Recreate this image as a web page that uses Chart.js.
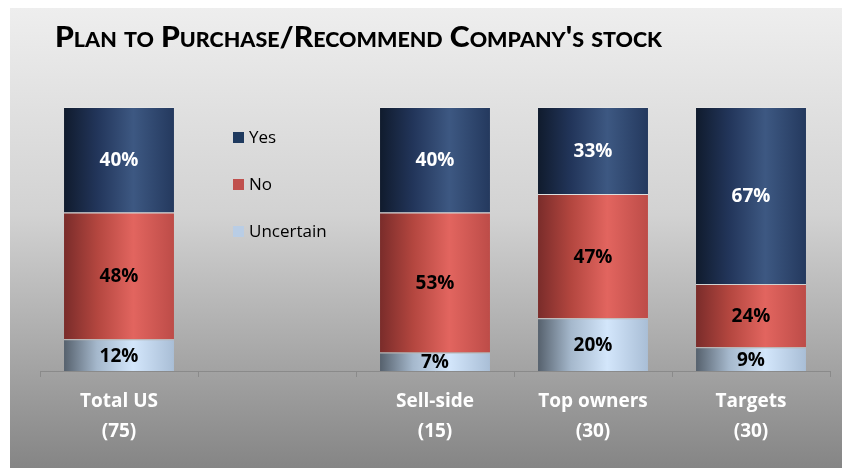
<!DOCTYPE html>
<html>
<head>
<meta charset="utf-8">
<script src="https://cdn.jsdelivr.net/npm/chart.js@4"></script>
<style>
  html, body { margin: 0; padding: 0; background: #ffffff; }
  #wrap { width: 847px; height: 468px; }
</style>
</head>
<body>
<div id="wrap"><canvas id="c" width="847" height="468"></canvas></div>
<script>
// ---- data ----
const titleText = "Plan to Purchase/Recommend Company's stock";
const categories = [["Total US", "(75)"], "", ["Sell-side", "(15)"], ["Top owners", "(30)"], ["Targets", "(30)"]];
const seriesNames = ["Uncertain", "No", "Yes"];
const uncertainValues = [12, null, 7, 20, 9];
const noValues = [48, null, 53, 47, 24];
const yesValues = [40, null, 40, 33, 67];

// ---- styles ----
const BAR_PCT = 0.696;
const gradStops = {
  Yes: [[0, '#101b2d'], [0.3, '#22355a'], [0.63, '#3d5882'], [1, '#24395e']],
  No: [[0, '#7a2c2a'], [0.3, '#b3463f'], [0.63, '#e2655f'], [1, '#bd4c48']],
  Uncertain: [[0, '#56616d'], [0.3, '#a5b8cc'], [0.63, '#d3e6fb'], [1, '#a9bed6']]
};
const legendColors = { Yes: '#1f3a5f', No: '#c0504d', Uncertain: '#b9cde5' };
const labelColors = { Yes: '#ffffff', No: '#000000', Uncertain: '#000000' };

function barFill(name) {
  return (ctx) => {
    const chart = ctx.chart;
    const area = chart.chartArea;
    const xs = chart.scales && chart.scales.x;
    if (!area || !xs) return legendColors[name];
    const cx = xs.getPixelForValue(ctx.dataIndex);
    const w = (area.right - area.left) / categories.length * BAR_PCT;
    const g = chart.ctx.createLinearGradient(cx - w / 2, 0, cx + w / 2, 0);
    gradStops[name].forEach(s => g.addColorStop(s[0], s[1]));
    return g;
  };
}

const valuesByName = { Yes: yesValues, No: noValues, Uncertain: uncertainValues };

const bgPlugin = {
  id: 'bg',
  beforeDraw(chart) {
    const c = chart.ctx;
    c.save();
    c.fillStyle = '#ffffff';
    c.fillRect(0, 0, chart.width, chart.height);
    const g = c.createLinearGradient(0, 8, 0, chart.height);
    g.addColorStop(0, '#eeeeee');
    g.addColorStop(0.45, '#d2d2d2');
    g.addColorStop(1, '#858585');
    c.fillStyle = g;
    c.fillRect(10, 8, 832, chart.height - 8);
    c.restore();
  }
};

const titlePlugin = {
  id: 'customTitle',
  afterDraw(chart) {
    const c = chart.ctx;
    c.save();
    c.font = 'small-caps 900 28px Lato, "Open Sans", sans-serif';
    try { c.fontVariantCaps = 'small-caps'; } catch (e) {}
    c.fillStyle = '#000000';
    c.textBaseline = 'alphabetic';
    c.textAlign = 'left';
    const target = 607;
    const w = c.measureText(titleText).width;
    const sx = w > 0 ? target / w : 1;
    c.translate(55, 47);
    c.scale(sx, 1);
    c.fillText(titleText, 0, 0);
    c.restore();
  }
};

const legendPlugin = {
  id: 'customLegend',
  afterDraw(chart) {
    const c = chart.ctx;
    const items = ['Yes', 'No', 'Uncertain'];
    const ys = [137, 184, 231];
    c.save();
    c.font = '17px "Open Sans", sans-serif';
    c.textBaseline = 'middle';
    c.textAlign = 'left';
    items.forEach((name, i) => {
      c.fillStyle = legendColors[name];
      c.fillRect(233, ys[i] - 5, 11, 11);
      c.fillStyle = '#000000';
      c.fillText(name, 249, ys[i] + 1);
    });
    c.restore();
  }
};

const valueLabelPlugin = {
  id: 'valueLabels',
  afterDatasetsDraw(chart) {
    const c = chart.ctx;
    c.save();
    c.font = 'bold 19px "Open Sans", sans-serif';
    c.textAlign = 'center';
    c.textBaseline = 'middle';
    chart.data.datasets.forEach((ds, di) => {
      const meta = chart.getDatasetMeta(di);
      meta.data.forEach((bar, i) => {
        const v = ds.data[i];
        if (v === null || v === undefined) return;
        const p = bar.getProps(['x', 'y', 'base'], true);
        c.fillStyle = labelColors[ds.label];
        c.fillText(v + '%', p.x, (p.y + p.base) / 2 + 1);
      });
    });
    c.restore();
  }
};

new Chart(document.getElementById('c'), {
  type: 'bar',
  data: {
    labels: categories,
    datasets: seriesNames.map(name => ({
      label: name,
      data: valuesByName[name],
      backgroundColor: barFill(name),
      borderColor: 'rgba(235,235,235,0.45)',
      borderWidth: { top: 1, bottom: 0, left: 0, right: 0 },
      borderSkipped: false,
      categoryPercentage: 1,
      barPercentage: BAR_PCT
    }))
  },
  options: {
    responsive: false,
    animation: false,
    layout: { padding: { left: 40, right: 17, top: 107, bottom: 0 } },
    plugins: {
      legend: { display: false },
      title: { display: false },
      tooltip: { enabled: false }
    },
    scales: {
      x: {
        stacked: true,
        grid: { display: true, drawOnChartArea: false, color: '#8a8a8a', tickLength: 6, offset: true },
        border: { display: true, color: '#8a8a8a', width: 1 },
        ticks: {
          color: '#ffffff',
          font: { family: '"Open Sans", sans-serif', size: 19, weight: 'bold', lineHeight: 1.55 },
          padding: 10,
          maxRotation: 0,
          autoSkip: false
        },
        afterFit(scale) { scale.height = 97; }
      },
      y: {
        stacked: true,
        display: false,
        min: 0,
        max: 100
      }
    }
  },
  plugins: [bgPlugin, titlePlugin, legendPlugin, valueLabelPlugin]
});
</script>
</body>
</html>
